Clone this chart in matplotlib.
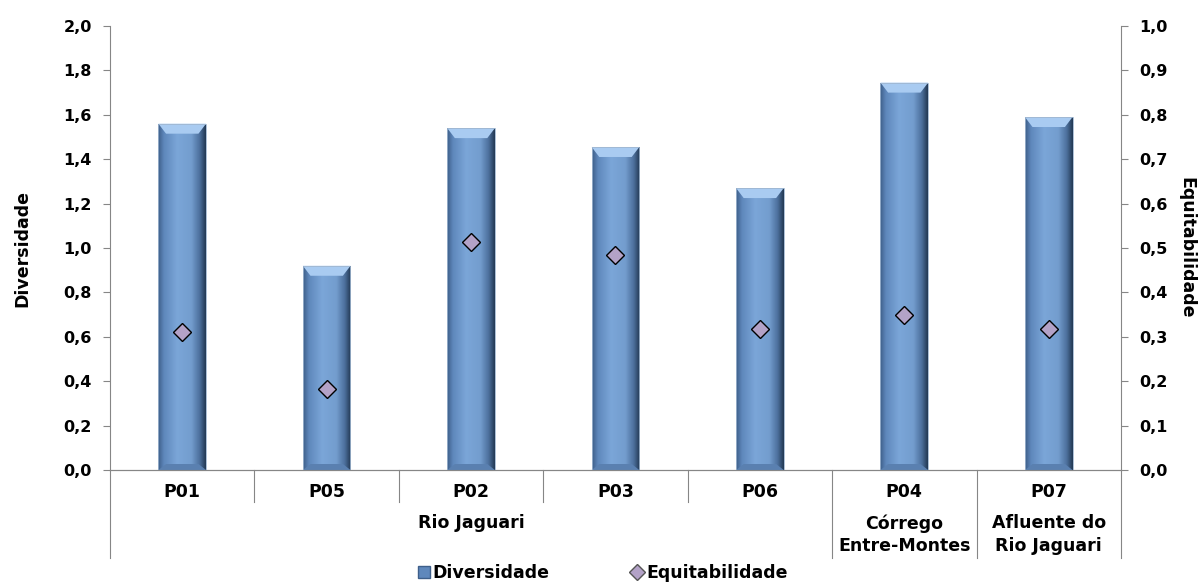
import numpy as np
import matplotlib
matplotlib.use('Agg')
import matplotlib.pyplot as plt
from matplotlib.colors import LinearSegmentedColormap
from matplotlib.patches import Polygon
from matplotlib.lines import Line2D
from matplotlib.ticker import FuncFormatter, MultipleLocator
import matplotlib.transforms as mtransforms

# dados
pontos = ['P01', 'P05', 'P02', 'P03', 'P06', 'P04', 'P07']
diversidade = [1.56, 0.92, 1.54, 1.455, 1.27, 1.745, 1.59]
equitabilidade = [0.311, 0.182, 0.513, 0.484, 0.317, 0.348, 0.317]
grupos = ['Rio Jaguari', 'Córrego\nEntre-Montes', 'Afluente do\nRio Jaguari']
tam_grupos = [5, 1, 1]

plt.rcParams['font.family'] = ['DejaVu Sans']
plt.rcParams['font.weight'] = 'bold'
fs = 11.5      # eixos y
fs_cat = 12.5  # categorias e legenda
cinza = '#868686'

fig = plt.figure(figsize=(12.04, 5.83), dpi=100)
ax = fig.add_axes([0.0914, 0.1938, 0.8396, 0.7616])
ax2 = ax.twinx()

x = np.arange(len(pontos))
barras = ax.bar(x, diversidade, width=0.33, color='#7BA5D6', zorder=2)

# gradiente horizontal nas barras
cmap = LinearSegmentedColormap.from_list('barra', [
    (0.0, '#3E5F8A'), (0.12, '#5F88BC'), (0.4, '#7BA6D8'),
    (0.7, '#739DCE'), (0.88, '#4C6F9C'), (1.0, '#243A55')])
grad = np.linspace(0, 1, 64).reshape(1, -1)
for p in barras:
    x0, w, h = p.get_x(), p.get_width(), p.get_height()
    im = ax.imshow(grad, cmap=cmap, aspect='auto', extent=(x0, x0 + w, 0, h),
                   zorder=3, interpolation='bicubic')
    im.set_clip_path(p)
    b = 0.045
    topo = Polygon([(x0, h), (x0 + w, h), (x0 + w * 0.84, h - b), (x0 + w * 0.16, h - b)],
                   closed=True, facecolor='#A9CBF1', edgecolor='none', zorder=4)
    ax.add_patch(topo)
    base = Polygon([(x0, 0), (x0 + w, 0), (x0 + w * 0.84, b * 0.6), (x0 + w * 0.16, b * 0.6)],
                   closed=True, facecolor='#5A80B0', edgecolor='none', zorder=4)
    ax.add_patch(base)
    p.set_edgecolor('#9FB6D0')
    p.set_linewidth(0.6)
    p.set_facecolor('none')
    p.set_zorder(5)

ax2.plot(x, equitabilidade, linestyle='none', marker='D', markersize=9,
         markerfacecolor='#B3A2C7', markeredgecolor='black', markeredgewidth=1.0, zorder=6)

ax.set_xlim(-0.5, len(pontos) - 0.5)
ax.set_ylim(0, 2.0)
ax2.set_ylim(0, 1.0)
ax.yaxis.set_major_locator(MultipleLocator(0.2))
ax2.yaxis.set_major_locator(MultipleLocator(0.1))
virg = FuncFormatter(lambda v, pos: ('%.1f' % v).replace('.', ','))
ax.yaxis.set_major_formatter(virg)
ax2.yaxis.set_major_formatter(virg)

for a in (ax, ax2):
    for s in a.spines.values():
        s.set_color(cinza)
    a.spines['top'].set_visible(False)
    a.tick_params(axis='y', colors=cinza, labelcolor='black', labelsize=fs, length=5, pad=8)
ax.spines['right'].set_visible(False)
ax2.spines['left'].set_visible(False)

ax.set_xticks(x)
ax.set_xticklabels(pontos, fontsize=fs_cat, fontweight='bold')
ax.tick_params(axis='x', length=0, pad=9)

ax.set_ylabel('Diversidade', fontsize=fs_cat, fontweight='bold', labelpad=23)
ax2.set_ylabel('Equitabilidade', fontsize=fs_cat, fontweight='bold', rotation=270, labelpad=20)

# separadores das categorias
trans = mtransforms.blended_transform_factory(ax.transData, ax.transAxes)
limites = np.cumsum([0] + tam_grupos) - 0.5
for i in range(len(pontos) + 1):
    xi = i - 0.5
    fundo = -0.198 if xi in limites else -0.072
    ax.add_line(Line2D([xi, xi], [0, fundo], transform=trans, color=cinza,
                       linewidth=0.8, clip_on=False))

for g, ini, fim in zip(grupos, limites[:-1], limites[1:]):
    ax.text((ini + fim) / 2, -0.10, g, transform=trans, ha='center', va='top',
            fontsize=fs_cat, fontweight='bold', linespacing=1.3)

leg_handles = [
    Line2D([], [], linestyle='none', marker='s', markersize=9,
           markerfacecolor='#5F88BC', markeredgecolor='#3E5F8A'),
    Line2D([], [], linestyle='none', marker='D', markersize=8,
           markerfacecolor='#B3A2C7', markeredgecolor='#555555'),
]
fig.legend(leg_handles, ['Diversidade', 'Equitabilidade'], loc='lower center',
           bbox_to_anchor=(0.5, -0.025), ncol=2, frameon=False, fontsize=fs_cat,
           handletextpad=0.05, columnspacing=4.6, handlelength=0.9)

fig.savefig('out.png', dpi=100)
